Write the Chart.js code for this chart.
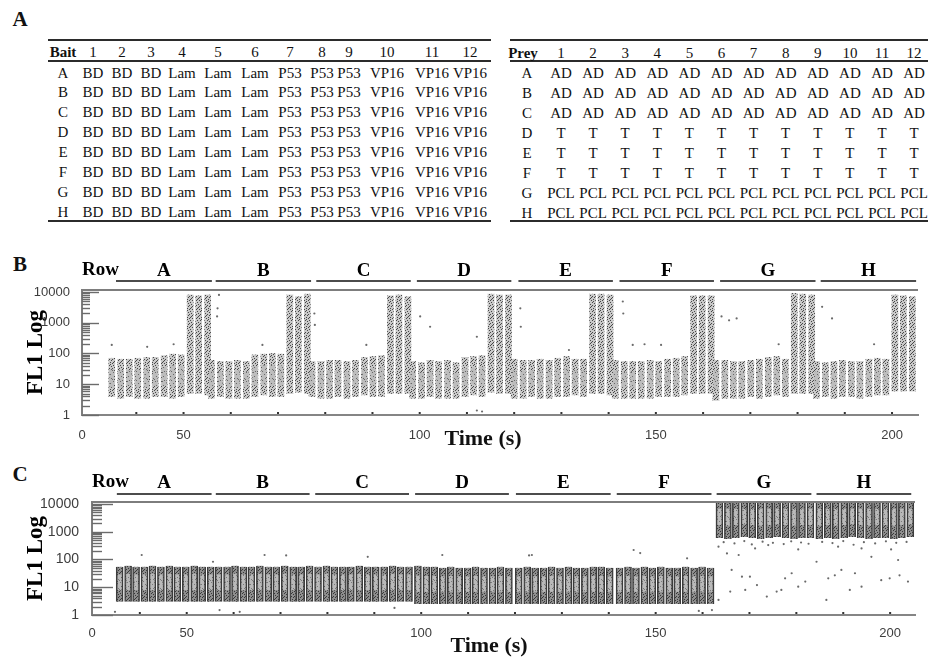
<!DOCTYPE html>
<html>
<head>
<meta charset="utf-8">
<script src="https://cdn.jsdelivr.net/npm/chart.js@4.4.1/dist/chart.umd.min.js"></script>
<style>
  body { margin: 0; width: 928px; height: 660px; overflow: hidden; position: relative; background: #fff;
         font-family: "Liberation Serif", "Times New Roman", serif; color: #111; }
  .letter { position: absolute; font-weight: bold; font-size: 21px; line-height: 1; transform: translate(-50%, -50%); }
  .cell { position: absolute; font-size: 15px; line-height: 1; white-space: nowrap; transform: translate(-50%, -50%); }
  .head { font-weight: bold; }
  .rule { position: absolute; height: 2px; background: #2b2b2b; }
  .xtitle { position: absolute; font-weight: bold; font-size: 22px; line-height: 1; white-space: nowrap; transform: translate(-50%, -50%); }
  canvas { position: absolute; left: 0; }
</style>
</head>
<body>
<div class="letter" style="left:20px;top:19px">A</div>
<div class="letter" style="left:20px;top:264px">B</div>
<div class="letter" style="left:20px;top:474px">C</div>
<div id="tables"></div>
<canvas id="chartB" width="928" height="205" style="top:255px"></canvas>
<canvas id="chartC" width="928" height="195" style="top:465px"></canvas>
<div class="xtitle" style="left:483px;top:438px">Time (s)</div>
<div class="xtitle" style="left:489px;top:645px">Time (s)</div>
<script>
// ---- panel A: plate layout ----
const plateRows = ["A", "B", "C", "D", "E", "F", "G", "H"];
const plateCols = ["1", "2", "3", "4", "5", "6", "7", "8", "9", "10", "11", "12"];
const baitByCol = ["BD", "BD", "BD", "Lam", "Lam", "Lam", "P53", "P53", "P53", "VP16", "VP16", "VP16"];
const preyByRow = ["AD", "AD", "AD", "T", "T", "T", "PCL", "PCL"];

// ---- panels B / C: flow data per well (rows A-H x wells 1-12) ----
const rowNames = ["A", "B", "C", "D", "E", "F", "G", "H"];
const rowStartB = [35.7, 56.8, 78.1, 99.4, 120.9, 142.3, 163.6, 184.9];
const rowEndB   = [56.0, 77.0, 98.1, 119.4, 140.9, 162.3, 183.8, 205.1];
const rowStartC = [35.1, 56.2, 77.4, 98.7, 120.2, 141.7, 163.0, 184.3];
const rowEndC   = [55.3, 76.2, 97.4, 118.7, 140.4, 161.9, 183.2, 204.5];
const wellOffsetB = [-0.9, 1.0, 2.8, 4.6, 6.5, 8.3, 10.2, 12.0, 13.8, 15.7, 17.5, 19.4];
const wellOffsetC = [0.6, 2.4, 4.1, 5.9, 7.6, 9.4, 11.2, 12.9, 14.7, 16.5, 18.2, 20.0];

const bLow = [
  [4, 3.5, 4, 3.5, 3.5, 4, 4, 3.5, 4, 5, 5, 4.5],
  [3.5, 4, 3.5, 3.5, 3.5, 4, 4.5, 4, 4, 5, 5.5, 5],
  [4, 3.5, 3.5, 4, 3.5, 4, 4.5, 4, 4, 5, 5, 5],
  [3.5, 3.5, 4, 3.5, 3.5, 3.5, 4, 4.5, 4, 5.5, 5, 5],
  [3.5, 3.5, 4, 3.5, 3.5, 4, 4, 4.5, 4, 5, 5, 4.5],
  [3.5, 3.5, 3.5, 3.5, 3.5, 4, 4, 4, 4.5, 5, 5, 5],
  [3, 3.5, 3.5, 3.5, 4, 3.5, 4, 4.5, 4, 5, 5, 5],
  [3.5, 4, 3.5, 4, 4, 3.5, 4, 4.5, 4.5, 6, 6, 6]
];
const bHigh = [
  [70, 65, 65, 70, 75, 75, 85, 95, 90, 8000, 7500, 8000],
  [60, 55, 55, 60, 55, 90, 95, 100, 95, 8000, 7000, 8500],
  [55, 55, 60, 60, 55, 60, 75, 80, 85, 7500, 8000, 7000],
  [55, 50, 60, 55, 60, 50, 75, 80, 85, 8500, 8000, 8000],
  [65, 60, 60, 65, 60, 70, 80, 65, 65, 8500, 8500, 8000],
  [60, 55, 55, 55, 60, 55, 65, 70, 80, 7500, 7500, 7500],
  [60, 60, 55, 55, 60, 65, 75, 80, 65, 9000, 8500, 8000],
  [55, 50, 55, 60, 55, 55, 65, 70, 65, 8000, 7500, 7000]
];
const bCoreLow = [
  [8, 8, 9, 8, 8, 9, 9, 8, 9, null, null, null],
  [8, 9, 8, 8, 8, 9, 10, 9, 9, null, null, null],
  [9, 8, 8, 9, 8, 9, 9, 9, 9, null, null, null],
  [8, 8, 9, 8, 8, 8, 9, 10, 9, null, null, null],
  [8, 8, 9, 8, 8, 9, 9, 9, 9, null, null, null],
  [8, 8, 8, 8, 8, 9, 9, 9, 10, null, null, null],
  [7, 8, 8, 8, 9, 8, 9, 10, 9, null, null, null],
  [8, 9, 8, 9, 9, 8, 9, 10, 10, null, null, null]
];
const bCoreHigh = [
  [30, 28, 28, 30, 32, 32, 36, 40, 38, null, null, null],
  [26, 25, 25, 27, 25, 38, 40, 42, 40, null, null, null],
  [25, 25, 27, 27, 25, 27, 32, 34, 36, null, null, null],
  [25, 23, 27, 25, 27, 23, 32, 34, 36, null, null, null],
  [28, 27, 27, 28, 27, 30, 34, 28, 28, null, null, null],
  [27, 25, 25, 25, 27, 25, 28, 30, 34, null, null, null],
  [27, 27, 25, 25, 27, 28, 32, 34, 28, null, null, null],
  [25, 23, 25, 27, 25, 25, 28, 30, 28, null, null, null]
];

const cLow = [
  [3, 3, 3, 3, 3, 3, 3, 3, 3, 3, 3, 3],
  [3, 3, 3, 3, 3, 3, 3, 3, 3, 3, 3, 3],
  [3, 3, 3, 3, 3, 3, 3, 3, 3, 3, 3, 3],
  [2.5, 2.5, 2.5, 2.5, 2.5, 2.5, 2.5, 2.5, 2.5, 2.5, 2.5, 2.5],
  [2.5, 2.5, 2.5, 2.5, 2.5, 2.5, 2.5, 2.5, 2.5, 2.5, 2.5, 2.5],
  [2.5, 2.5, 2.5, 2.5, 2.5, 2.5, 2.5, 2.5, 2.5, 2.5, 2.5, 2.5],
  [600, 550, 600, 650, 600, 550, 600, 650, 600, 550, 600, 600],
  [550, 600, 550, 600, 650, 600, 550, 600, 600, 550, 600, 650]
];
const cHigh = [
  [55, 60, 55, 55, 60, 55, 60, 55, 55, 60, 55, 55],
  [55, 55, 60, 55, 55, 60, 55, 55, 60, 55, 55, 60],
  [55, 60, 55, 55, 55, 60, 55, 55, 55, 60, 55, 55],
  [60, 55, 55, 50, 55, 50, 50, 55, 50, 50, 55, 50],
  [50, 55, 50, 50, 55, 50, 55, 50, 50, 55, 55, 50],
  [50, 55, 50, 55, 50, 55, 50, 50, 55, 50, 55, 50],
  [12000, 12000, 12000, 12000, 12000, 12000, 12000, 12000, 12000, 12000, 12000, 12000],
  [12000, 12000, 12000, 12000, 12000, 12000, 12000, 12000, 12000, 12000, 12000, 12000]
];
const cCoreLow = [
  [8, 8, 8, 8, 8, 8, 8, 8, 8, 8, 8, 8],
  [8, 8, 8, 8, 8, 8, 8, 8, 8, 8, 8, 8],
  [8, 8, 8, 8, 8, 8, 8, 8, 8, 8, 8, 8],
  [7, 7, 7, 7, 7, 7, 7, 7, 7, 7, 7, 7],
  [7, 7, 7, 7, 7, 7, 7, 7, 7, 7, 7, 7],
  [7, 7, 7, 7, 7, 7, 7, 7, 7, 7, 7, 7],
  [1800, 1700, 1800, 1900, 1800, 1700, 1800, 1900, 1800, 1700, 1800, 1800],
  [1700, 1800, 1700, 1800, 1900, 1800, 1700, 1800, 1800, 1700, 1800, 1900]
];
const cCoreHigh = [
  [28, 30, 28, 28, 30, 28, 30, 28, 28, 30, 28, 28],
  [28, 28, 30, 28, 28, 30, 28, 28, 30, 28, 28, 30],
  [28, 30, 28, 28, 28, 30, 28, 28, 28, 30, 28, 28],
  [26, 25, 25, 24, 25, 24, 24, 25, 24, 24, 25, 24],
  [24, 25, 24, 24, 25, 24, 25, 24, 24, 25, 25, 24],
  [24, 25, 24, 25, 24, 25, 24, 24, 25, 24, 25, 24],
  [6500, 6500, 6500, 6500, 6500, 6500, 6500, 6500, 6500, 6500, 6500, 6500],
  [6500, 6500, 6500, 6500, 6500, 6500, 6500, 6500, 6500, 6500, 6500, 6500]
];

// single events lying outside the well bands
const outBX = [34.8, 42.3, 47.9, 57.5, 57.2, 57.1, 66.7, 77.7, 77.8, 88.7, 100.1, 102.2, 112.1, 121.3, 121.4,
               131.6, 143.0, 143.1, 145.1, 147.6, 151.1, 163.9, 165.5, 167.1, 176.0, 185.2, 187.3, 196.2, 112.1, 113.2];
const outBY = [190, 165, 200, 8000, 2950, 1600, 190, 2000, 850, 190, 1600, 740, 350, 2950, 740,
               130, 4900, 2000, 190, 200, 190, 1600, 1200, 1380, 200, 3300, 1380, 200, 1.4, 1.3];
const outCX = [163.4, 165.2, 166.2, 167.7, 168.4, 170.1, 171.6, 173.7, 175.8, 177.6, 179.0, 180.4, 181.9, 184.3,
               186.8, 188.2, 189.6, 191.4, 192.5, 193.9, 198.1, 199.9, 202.0, 203.8, 163.4, 186.4, 169.1, 165.9,
               176.8, 193.9, 171.2, 180.4, 188.9, 200.2, 174.0, 196.0, 201.7,
               164.5, 166.8, 168.9, 170.5, 172.8, 175.0, 177.3, 178.9, 181.0, 182.6,
               185.5, 187.7, 190.0, 192.2, 194.4, 196.8, 199.1, 201.3, 203.5,
               34.7, 40.4, 55.6, 57.0, 66.6, 71.2, 61.3, 88.6, 104.5, 94.3, 123.0, 123.6, 145.3, 146.7, 162.0, 159.2, 156.7];
const outCY = [290, 165, 42, 145, 24, 24, 12, 4.6, 7, 21, 32, 10.5, 16, 83,
               21, 27, 42, 8, 32, 10.5, 18, 21, 27, 16, 3.5, 3.5, 8, 7,
               8, 250, 250, 230, 290, 230, 330, 125, 96,
               420, 380, 460, 350, 440, 400, 360, 450, 410, 370,
               430, 390, 460, 340, 420, 380, 450, 400, 430,
               1.3, 145, 83, 1.5, 145, 140, 1.3, 125, 145, 1.8, 140, 145, 220, 170, 1.5, 1.4, 110];

// ---- axes ----
const yTickValues = [1, 10, 100, 1000, 10000];
const yTickLabels = ["1", "10", "100", "1000", "10000"];
const yMinorSteps = [2, 3, 4, 5, 6, 7, 8, 9];
const xTickValuesB = [28.5, 50, 100, 150, 200];
const xTickValuesC = [29.8, 50, 100, 150, 200];
const xTickLabels = ["0", "50", "100", "150", "200"];
const xMarks = [40, 50, 60, 70, 80, 90, 100, 110, 120, 130, 140, 150, 160, 170, 180, 190, 200];

// ---- panel A tables (HTML text) ----
const tables = document.getElementById("tables");
function put(txt, x, y, cls) {
  const d = document.createElement("div");
  d.className = "cell" + (cls ? " " + cls : "");
  d.textContent = txt;
  d.style.left = x + "px";
  d.style.top = y + "px";
  tables.appendChild(d);
}
function rule(x0, x1, y) {
  const d = document.createElement("div");
  d.className = "rule";
  d.style.left = x0 + "px";
  d.style.width = (x1 - x0) + "px";
  d.style.top = y + "px";
  tables.appendChild(d);
}
const leftColX = [93, 122, 151, 182, 218, 255, 290, 322, 349, 387, 432, 470];
const rightColX = leftColX.map((_, i) => 561 + 32.1 * i);
rule(48, 491, 39); rule(48, 491, 59.5); rule(48, 491, 219.5);
rule(510, 928, 39); rule(510, 928, 60); rule(510, 928, 220);
put("Bait", 63, 52, "head");
put("Prey", 523, 53, "head");
plateCols.forEach((c, i) => { put(c, leftColX[i], 52); put(c, rightColX[i], 53); });
plateRows.forEach((r, j) => {
  const yl = 72.5 + 19.9 * j, yr = 73 + 20 * j;
  put(r, 63, yl);
  put(r, 527, yr);
  plateCols.forEach((c, i) => {
    put(baitByCol[i], leftColX[i], yl);
    put(preyByRow[j], rightColX[i], yr);
  });
});

// ---- speckle fills for the well bands ----
function speckle(bg, fg, dots) {
  const c = document.createElement("canvas");
  c.width = 7; c.height = 9;
  const g = c.getContext("2d");
  g.fillStyle = bg; g.fillRect(0, 0, 7, 9);
  g.fillStyle = fg;
  dots.forEach(([x, y]) => g.fillRect(x, y, 1, 1));
  return g.createPattern(c, "repeat");
}
const dense = [[0,0],[3,0],[5,1],[1,2],[4,2],[6,3],[2,4],[0,5],[4,5],[6,6],[2,7],[5,8],[1,8],[3,6]];
const sparse = [[1,0],[5,2],[2,4],[6,6],[0,7],[3,8]];

function wellBars(starts, offs, lows, highs) {
  const pts = [];
  starts.forEach((t0, r) => offs.forEach((dt, w) => {
    if (lows[r][w] == null) return;
    pts.push({ x: t0 + dt, y: [lows[r][w], highs[r][w]] });
  }));
  return pts;
}
function points(xs, ys) { return xs.map((x, i) => ({ x: x, y: ys[i] })); }

const panelDecor = {
  id: "panelDecor",
  afterDraw(chart, args, o) {
    const { ctx, chartArea: a, scales: { x, y } } = chart;
    ctx.save();
    ctx.strokeStyle = "#7d7d7d";
    ctx.lineWidth = 2;
    ctx.beginPath(); ctx.moveTo(a.left, a.top); ctx.lineTo(a.right, a.top); ctx.stroke();
    // inward log ticks
    ctx.strokeStyle = "#6b6b6b";
    ctx.lineWidth = 1.4;
    y.ticks.forEach(t => {
      const py = Math.round(y.getPixelForValue(t.value)) + 0.5;
      const len = yTickValues.includes(t.value) ? o.major : o.minor;
      ctx.beginPath(); ctx.moveTo(a.left, py); ctx.lineTo(a.left + len, py); ctx.stroke();
    });
    ctx.fillStyle = "#333";
    xMarks.forEach(v => {
      const px = x.getPixelForValue(v);
      ctx.fillRect(px - 1, a.bottom - 3, 2, 2);
    });
    // row header
    ctx.fillStyle = "#000";
    ctx.strokeStyle = "#111";
    ctx.lineWidth = 1.6;
    ctx.font = 'bold 19px "Liberation Serif"';
    ctx.textAlign = "center";
    ctx.textBaseline = "middle";
    o.starts.forEach((s, i) => {
      const x0 = x.getPixelForValue(s), x1 = x.getPixelForValue(o.ends[i]);
      ctx.beginPath(); ctx.moveTo(x0, a.top - o.lineGap); ctx.lineTo(x1, a.top - o.lineGap); ctx.stroke();
      ctx.fillText(rowNames[i], (x0 + x1) / 2, a.top - o.textGap);
    });
    ctx.textAlign = "left";
    ctx.fillText("Row", a.left, a.top - o.textGap - 1);
    ctx.restore();
  }
};

function makeChart(id, p) {
  return new Chart(document.getElementById(id), {
    type: "bar",
    data: {
      datasets: [
        { data: points(p.outX, p.outY), type: "scatter", order: 0, pointRadius: 1.1, borderWidth: 0,
          backgroundColor: "#6a6a6a" },
        { data: wellBars(p.starts, p.offs, p.coreLow, p.coreHigh), order: 1, grouped: false,
          barThickness: p.coreW, backgroundColor: p.coreFill, borderWidth: 0 },
        { data: wellBars(p.starts, p.offs, p.low, p.high), order: 2, grouped: false,
          barThickness: p.outerW, backgroundColor: p.outerFill, borderSkipped: false,
          borderColor: p.edge, borderWidth: p.edgeW }
      ]
    },
    options: {
      responsive: false,
      animation: false,
      layout: { padding: { top: p.padTop, right: p.padRight, left: 0, bottom: 0 } },
      plugins: {
        legend: { display: false },
        tooltip: { enabled: false },
        panelDecor: { starts: p.rowStart, ends: p.rowEnd, major: p.major, minor: p.minor,
                      lineGap: p.lineGap, textGap: p.textGap }
      },
      scales: {
        x: {
          type: "linear", offset: false, min: p.xTicks[0], max: p.xMax,
          afterBuildTicks: s => { s.ticks = p.xTicks.map(v => ({ value: v })); },
          afterFit: s => { s.height = 45; },
          grid: { display: false, offset: false },
          border: { display: true, color: "#858585", width: 2 },
          ticks: { autoSkip: false, maxRotation: 0, padding: p.xPad, color: "#3d3d3d",
                   font: { family: "Liberation Sans", size: 13 },
                   callback: (v, i) => xTickLabels[i] }
        },
        y: {
          type: "logarithmic", min: 1, max: p.yMax,
          afterBuildTicks: s => {
            const vals = [];
            yTickValues.forEach(d => {
              vals.push(d);
              if (d < 10000) yMinorSteps.forEach(m => vals.push(m * d));
            });
            s.ticks = vals.map(v => ({ value: v }));
          },
          afterFit: s => { s.width = p.yWidth; },
          grid: { display: false },
          border: { display: true, color: "#7d7d7d", width: 2 },
          ticks: { autoSkip: false, padding: p.yPad, color: "#3d3d3d",
                   font: { family: "Liberation Sans", size: p.yFont },
                   callback: v => { const k = yTickValues.indexOf(v); return k < 0 ? "" : yTickLabels[k]; } },
          title: { display: true, text: "FL1 Log", color: "#000", padding: { top: 22 },
                   font: { family: "Liberation Serif", weight: "bold", size: 23 } }
        }
      }
    },
    plugins: [panelDecor]
  });
}

makeChart("chartB", {
  starts: rowStartB, offs: wellOffsetB, rowStart: rowStartB, rowEnd: rowEndB,
  low: bLow, high: bHigh, coreLow: bCoreLow, coreHigh: bCoreHigh, outX: outBX, outY: outBY,
  outerW: 6, coreW: 4, edgeW: 0, edge: "#555",
  outerFill: speckle("#c9c9c9", "#484848", dense), coreFill: speckle("#bdbdbd", "#6a6a6a", sparse),
  xTicks: xTickValuesB, xMax: 205.5, yMax: 11600, padTop: 35, padRight: 10, yWidth: 82,
  xPad: 5, yPad: 4, yFont: 13, major: 17, minor: 8, lineGap: 9, textGap: 19
});

makeChart("chartC", {
  starts: rowStartC, offs: wellOffsetC, rowStart: rowStartC, rowEnd: rowEndC,
  low: cLow, high: cHigh, coreLow: cCoreLow, coreHigh: cCoreHigh, outX: outCX, outY: outCY,
  outerW: 7, coreW: 3, edgeW: { left: 1.5, right: 1.5, top: 0, bottom: 0 }, edge: "#3c3c3c",
  outerFill: speckle("#8e8e8e", "#3a3a3a", dense), coreFill: speckle("#b9b9b9", "#7a7a7a", sparse),
  xTicks: xTickValuesC, xMax: 205.3, yMax: 11800, padTop: 37, padRight: 13, yWidth: 92,
  xPad: 3, yPad: 5, yFont: 14, major: 21, minor: 10, lineGap: 8, textGap: 19
});
</script>
</body>
</html>
